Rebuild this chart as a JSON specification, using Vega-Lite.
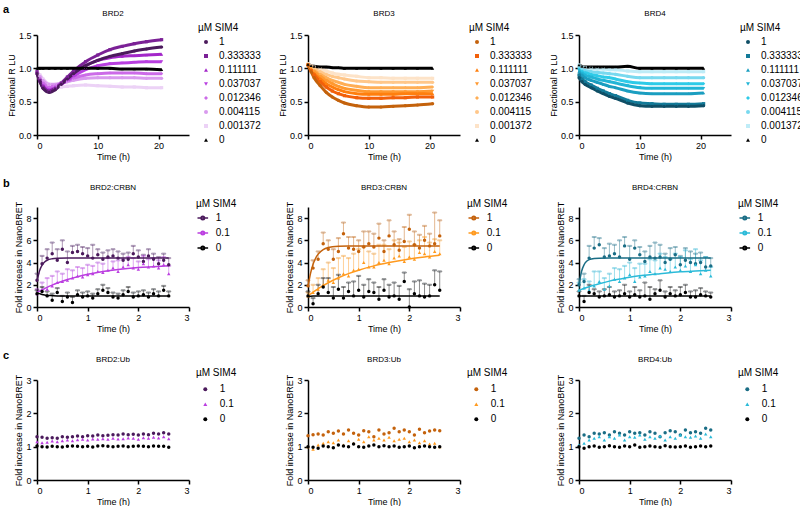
{
"$schema":"https://vega.github.io/schema/vega-lite/v6.json",
"padding":{"left":3,"top":3,"right":0,"bottom":0},
"spacing":16,
"config":{
 "font":"Liberation Sans",
 "view":{"stroke":null},
 "axis":{"grid":false,"domainColor":"#000","domainWidth":1.5,"tickColor":"#000","tickWidth":1.5,"tickSize":4,"labelColor":"#000","labelFontSize":9,"labelPadding":2,"titleColor":"#000","titleFontSize":9,"titleFontWeight":"normal","titlePadding":2,"minExtent":0},
 "legend":{"titleFontSize":10,"titleFontWeight":"normal","titleColor":"#000","labelFontSize":10,"labelColor":"#000"},
 "title":{"fontSize":8,"fontWeight":"normal","color":"#000","offset":3}
},
"datasets":{
"a2":[
{"t":0,"c":"0.001372","v":0.95},{"t":0.5,"c":"0.001372","v":0.9},{"t":1,"c":"0.001372","v":0.84},{"t":2,"c":"0.001372","v":0.76},{"t":3,"c":"0.001372","v":0.72},{"t":4,"c":"0.001372","v":0.72},{"t":5,"c":"0.001372","v":0.73},{"t":6,"c":"0.001372","v":0.74},{"t":8,"c":"0.001372","v":0.75},{"t":10,"c":"0.001372","v":0.74},{"t":12,"c":"0.001372","v":0.73},{"t":14,"c":"0.001372","v":0.72},{"t":16,"c":"0.001372","v":0.72},{"t":18,"c":"0.001372","v":0.71},{"t":20.5,"c":"0.001372","v":0.71},
{"t":0,"c":"0.004115","v":0.94},{"t":0.5,"c":"0.004115","v":0.88},{"t":1,"c":"0.004115","v":0.82},{"t":2,"c":"0.004115","v":0.76},{"t":3,"c":"0.004115","v":0.76},{"t":4,"c":"0.004115","v":0.78},{"t":5,"c":"0.004115","v":0.8},{"t":6,"c":"0.004115","v":0.82},{"t":8,"c":"0.004115","v":0.85},{"t":10,"c":"0.004115","v":0.86},{"t":12,"c":"0.004115","v":0.86},{"t":14,"c":"0.004115","v":0.86},{"t":16,"c":"0.004115","v":0.86},{"t":18,"c":"0.004115","v":0.85},{"t":20.5,"c":"0.004115","v":0.85},
{"t":0,"c":"0.012346","v":0.93},{"t":0.5,"c":"0.012346","v":0.85},{"t":1,"c":"0.012346","v":0.78},{"t":2,"c":"0.012346","v":0.72},{"t":3,"c":"0.012346","v":0.74},{"t":4,"c":"0.012346","v":0.77},{"t":5,"c":"0.012346","v":0.81},{"t":6,"c":"0.012346","v":0.85},{"t":8,"c":"0.012346","v":0.9},{"t":10,"c":"0.012346","v":0.92},{"t":12,"c":"0.012346","v":0.93},{"t":14,"c":"0.012346","v":0.93},{"t":16,"c":"0.012346","v":0.93},{"t":18,"c":"0.012346","v":0.92},{"t":20.5,"c":"0.012346","v":0.92},
{"t":0,"c":"0.037037","v":0.92},{"t":0.5,"c":"0.037037","v":0.82},{"t":1,"c":"0.037037","v":0.74},{"t":2,"c":"0.037037","v":0.68},{"t":3,"c":"0.037037","v":0.71},{"t":4,"c":"0.037037","v":0.76},{"t":5,"c":"0.037037","v":0.82},{"t":6,"c":"0.037037","v":0.88},{"t":8,"c":"0.037037","v":0.98},{"t":10,"c":"0.037037","v":1.04},{"t":12,"c":"0.037037","v":1.07},{"t":14,"c":"0.037037","v":1.08},{"t":16,"c":"0.037037","v":1.09},{"t":18,"c":"0.037037","v":1.1},{"t":20.5,"c":"0.037037","v":1.1},
{"t":0,"c":"0.111111","v":0.93},{"t":0.5,"c":"0.111111","v":0.8},{"t":1,"c":"0.111111","v":0.71},{"t":2,"c":"0.111111","v":0.66},{"t":3,"c":"0.111111","v":0.7},{"t":4,"c":"0.111111","v":0.77},{"t":5,"c":"0.111111","v":0.85},{"t":6,"c":"0.111111","v":0.93},{"t":8,"c":"0.111111","v":1.04},{"t":10,"c":"0.111111","v":1.12},{"t":12,"c":"0.111111","v":1.16},{"t":14,"c":"0.111111","v":1.18},{"t":16,"c":"0.111111","v":1.19},{"t":18,"c":"0.111111","v":1.2},{"t":20.5,"c":"0.111111","v":1.21},
{"t":0,"c":"0.333333","v":0.95},{"t":0.5,"c":"0.333333","v":0.82},{"t":1,"c":"0.333333","v":0.72},{"t":2,"c":"0.333333","v":0.66},{"t":3,"c":"0.333333","v":0.7},{"t":4,"c":"0.333333","v":0.78},{"t":5,"c":"0.333333","v":0.87},{"t":6,"c":"0.333333","v":0.96},{"t":8,"c":"0.333333","v":1.1},{"t":10,"c":"0.333333","v":1.2},{"t":12,"c":"0.333333","v":1.28},{"t":14,"c":"0.333333","v":1.33},{"t":16,"c":"0.333333","v":1.37},{"t":18,"c":"0.333333","v":1.4},{"t":20.5,"c":"0.333333","v":1.43},
{"t":0,"c":"1","v":0.92},{"t":0.5,"c":"1","v":0.8},{"t":1,"c":"1","v":0.7},{"t":2,"c":"1","v":0.64},{"t":3,"c":"1","v":0.68},{"t":4,"c":"1","v":0.76},{"t":5,"c":"1","v":0.84},{"t":6,"c":"1","v":0.92},{"t":8,"c":"1","v":1.04},{"t":10,"c":"1","v":1.12},{"t":12,"c":"1","v":1.18},{"t":14,"c":"1","v":1.22},{"t":16,"c":"1","v":1.26},{"t":18,"c":"1","v":1.29},{"t":20.5,"c":"1","v":1.32},
{"t":0,"c":"0","v":1.0},{"t":0.5,"c":"0","v":1.0},{"t":1,"c":"0","v":1.0},{"t":2,"c":"0","v":1.0},{"t":3,"c":"0","v":1.0},{"t":4,"c":"0","v":1.0},{"t":5,"c":"0","v":1.0},{"t":6,"c":"0","v":1.0},{"t":8,"c":"0","v":1.0},{"t":10,"c":"0","v":1.0},{"t":12,"c":"0","v":1.0},{"t":14,"c":"0","v":0.99},{"t":16,"c":"0","v":0.99},{"t":18,"c":"0","v":0.99},{"t":20.5,"c":"0","v":0.98}
],
"a3":[
{"t":0,"c":"0.001372","v":1.07},{"t":0.5,"c":"0.001372","v":1.04},{"t":1,"c":"0.001372","v":1.02},{"t":2,"c":"0.001372","v":0.99},{"t":3,"c":"0.001372","v":0.96},{"t":4,"c":"0.001372","v":0.93},{"t":5,"c":"0.001372","v":0.91},{"t":6,"c":"0.001372","v":0.9},{"t":8,"c":"0.001372","v":0.88},{"t":10,"c":"0.001372","v":0.86},{"t":12,"c":"0.001372","v":0.86},{"t":14,"c":"0.001372","v":0.85},{"t":16,"c":"0.001372","v":0.85},{"t":18,"c":"0.001372","v":0.85},{"t":20.5,"c":"0.001372","v":0.85},
{"t":0,"c":"0.004115","v":1.06},{"t":0.5,"c":"0.004115","v":1.03},{"t":1,"c":"0.004115","v":1.0},{"t":2,"c":"0.004115","v":0.95},{"t":3,"c":"0.004115","v":0.91},{"t":4,"c":"0.004115","v":0.88},{"t":5,"c":"0.004115","v":0.86},{"t":6,"c":"0.004115","v":0.84},{"t":8,"c":"0.004115","v":0.81},{"t":10,"c":"0.004115","v":0.8},{"t":12,"c":"0.004115","v":0.79},{"t":14,"c":"0.004115","v":0.79},{"t":16,"c":"0.004115","v":0.79},{"t":18,"c":"0.004115","v":0.79},{"t":20.5,"c":"0.004115","v":0.79},
{"t":0,"c":"0.012346","v":1.06},{"t":0.5,"c":"0.012346","v":1.01},{"t":1,"c":"0.012346","v":0.97},{"t":2,"c":"0.012346","v":0.91},{"t":3,"c":"0.012346","v":0.86},{"t":4,"c":"0.012346","v":0.82},{"t":5,"c":"0.012346","v":0.79},{"t":6,"c":"0.012346","v":0.76},{"t":8,"c":"0.012346","v":0.73},{"t":10,"c":"0.012346","v":0.71},{"t":12,"c":"0.012346","v":0.71},{"t":14,"c":"0.012346","v":0.71},{"t":16,"c":"0.012346","v":0.71},{"t":18,"c":"0.012346","v":0.71},{"t":20.5,"c":"0.012346","v":0.72},
{"t":0,"c":"0.037037","v":1.06},{"t":0.5,"c":"0.037037","v":1.0},{"t":1,"c":"0.037037","v":0.95},{"t":2,"c":"0.037037","v":0.88},{"t":3,"c":"0.037037","v":0.82},{"t":4,"c":"0.037037","v":0.77},{"t":5,"c":"0.037037","v":0.73},{"t":6,"c":"0.037037","v":0.7},{"t":8,"c":"0.037037","v":0.67},{"t":10,"c":"0.037037","v":0.65},{"t":12,"c":"0.037037","v":0.65},{"t":14,"c":"0.037037","v":0.65},{"t":16,"c":"0.037037","v":0.65},{"t":18,"c":"0.037037","v":0.65},{"t":20.5,"c":"0.037037","v":0.66},
{"t":0,"c":"0.111111","v":1.05},{"t":0.5,"c":"0.111111","v":0.98},{"t":1,"c":"0.111111","v":0.92},{"t":2,"c":"0.111111","v":0.84},{"t":3,"c":"0.111111","v":0.77},{"t":4,"c":"0.111111","v":0.72},{"t":5,"c":"0.111111","v":0.68},{"t":6,"c":"0.111111","v":0.65},{"t":8,"c":"0.111111","v":0.62},{"t":10,"c":"0.111111","v":0.61},{"t":12,"c":"0.111111","v":0.61},{"t":14,"c":"0.111111","v":0.61},{"t":16,"c":"0.111111","v":0.62},{"t":18,"c":"0.111111","v":0.62},{"t":20.5,"c":"0.111111","v":0.62},
{"t":0,"c":"0.333333","v":1.05},{"t":0.5,"c":"0.333333","v":0.97},{"t":1,"c":"0.333333","v":0.9},{"t":2,"c":"0.333333","v":0.8},{"t":3,"c":"0.333333","v":0.72},{"t":4,"c":"0.333333","v":0.66},{"t":5,"c":"0.333333","v":0.62},{"t":6,"c":"0.333333","v":0.59},{"t":8,"c":"0.333333","v":0.56},{"t":10,"c":"0.333333","v":0.55},{"t":12,"c":"0.333333","v":0.55},{"t":14,"c":"0.333333","v":0.56},{"t":16,"c":"0.333333","v":0.56},{"t":18,"c":"0.333333","v":0.57},{"t":20.5,"c":"0.333333","v":0.57},
{"t":0,"c":"1","v":1.05},{"t":0.5,"c":"1","v":0.95},{"t":1,"c":"1","v":0.86},{"t":2,"c":"1","v":0.74},{"t":3,"c":"1","v":0.64},{"t":4,"c":"1","v":0.57},{"t":5,"c":"1","v":0.52},{"t":6,"c":"1","v":0.48},{"t":8,"c":"1","v":0.44},{"t":10,"c":"1","v":0.42},{"t":12,"c":"1","v":0.42},{"t":14,"c":"1","v":0.43},{"t":16,"c":"1","v":0.44},{"t":18,"c":"1","v":0.45},{"t":20.5,"c":"1","v":0.47},
{"t":0,"c":"0","v":1.06},{"t":0.5,"c":"0","v":1.04},{"t":1,"c":"0","v":1.03},{"t":2,"c":"0","v":1.02},{"t":3,"c":"0","v":1.02},{"t":4,"c":"0","v":1.01},{"t":5,"c":"0","v":1.01},{"t":6,"c":"0","v":1.0},{"t":8,"c":"0","v":1.0},{"t":10,"c":"0","v":1.0},{"t":12,"c":"0","v":1.0},{"t":14,"c":"0","v":1.0},{"t":16,"c":"0","v":1.0},{"t":18,"c":"0","v":1.0},{"t":20.5,"c":"0","v":1.0}
],
"a4":[
{"t":0,"c":"0.001372","v":1.05},{"t":0.5,"c":"0.001372","v":1.02},{"t":1,"c":"0.001372","v":1.01},{"t":2,"c":"0.001372","v":1.0},{"t":3,"c":"0.001372","v":0.99},{"t":4,"c":"0.001372","v":0.99},{"t":5,"c":"0.001372","v":0.98},{"t":6,"c":"0.001372","v":0.98},{"t":8,"c":"0.001372","v":0.96},{"t":10,"c":"0.001372","v":0.95},{"t":12,"c":"0.001372","v":0.95},{"t":14,"c":"0.001372","v":0.95},{"t":16,"c":"0.001372","v":0.95},{"t":18,"c":"0.001372","v":0.95},{"t":20.5,"c":"0.001372","v":0.95},
{"t":0,"c":"0.004115","v":1.01},{"t":0.5,"c":"0.004115","v":0.99},{"t":1,"c":"0.004115","v":0.97},{"t":2,"c":"0.004115","v":0.95},{"t":3,"c":"0.004115","v":0.94},{"t":4,"c":"0.004115","v":0.93},{"t":5,"c":"0.004115","v":0.92},{"t":6,"c":"0.004115","v":0.91},{"t":8,"c":"0.004115","v":0.88},{"t":10,"c":"0.004115","v":0.86},{"t":12,"c":"0.004115","v":0.86},{"t":14,"c":"0.004115","v":0.86},{"t":16,"c":"0.004115","v":0.86},{"t":18,"c":"0.004115","v":0.86},{"t":20.5,"c":"0.004115","v":0.86},
{"t":0,"c":"0.012346","v":0.99},{"t":0.5,"c":"0.012346","v":0.96},{"t":1,"c":"0.012346","v":0.94},{"t":2,"c":"0.012346","v":0.91},{"t":3,"c":"0.012346","v":0.89},{"t":4,"c":"0.012346","v":0.87},{"t":5,"c":"0.012346","v":0.86},{"t":6,"c":"0.012346","v":0.84},{"t":8,"c":"0.012346","v":0.8},{"t":10,"c":"0.012346","v":0.78},{"t":12,"c":"0.012346","v":0.77},{"t":14,"c":"0.012346","v":0.77},{"t":16,"c":"0.012346","v":0.77},{"t":18,"c":"0.012346","v":0.77},{"t":20.5,"c":"0.012346","v":0.77},
{"t":0,"c":"0.037037","v":0.97},{"t":0.5,"c":"0.037037","v":0.93},{"t":1,"c":"0.037037","v":0.9},{"t":2,"c":"0.037037","v":0.87},{"t":3,"c":"0.037037","v":0.84},{"t":4,"c":"0.037037","v":0.82},{"t":5,"c":"0.037037","v":0.8},{"t":6,"c":"0.037037","v":0.78},{"t":8,"c":"0.037037","v":0.74},{"t":10,"c":"0.037037","v":0.71},{"t":12,"c":"0.037037","v":0.7},{"t":14,"c":"0.037037","v":0.7},{"t":16,"c":"0.037037","v":0.7},{"t":18,"c":"0.037037","v":0.7},{"t":20.5,"c":"0.037037","v":0.7},
{"t":0,"c":"0.111111","v":0.95},{"t":0.5,"c":"0.111111","v":0.9},{"t":1,"c":"0.111111","v":0.86},{"t":2,"c":"0.111111","v":0.82},{"t":3,"c":"0.111111","v":0.79},{"t":4,"c":"0.111111","v":0.76},{"t":5,"c":"0.111111","v":0.73},{"t":6,"c":"0.111111","v":0.71},{"t":8,"c":"0.111111","v":0.66},{"t":10,"c":"0.111111","v":0.63},{"t":12,"c":"0.111111","v":0.62},{"t":14,"c":"0.111111","v":0.62},{"t":16,"c":"0.111111","v":0.62},{"t":18,"c":"0.111111","v":0.62},{"t":20.5,"c":"0.111111","v":0.63},
{"t":0,"c":"0.333333","v":0.9},{"t":0.5,"c":"0.333333","v":0.84},{"t":1,"c":"0.333333","v":0.8},{"t":2,"c":"0.333333","v":0.75},{"t":3,"c":"0.333333","v":0.7},{"t":4,"c":"0.333333","v":0.66},{"t":5,"c":"0.333333","v":0.62},{"t":6,"c":"0.333333","v":0.59},{"t":8,"c":"0.333333","v":0.52},{"t":10,"c":"0.333333","v":0.48},{"t":12,"c":"0.333333","v":0.47},{"t":14,"c":"0.333333","v":0.46},{"t":16,"c":"0.333333","v":0.46},{"t":18,"c":"0.333333","v":0.46},{"t":20.5,"c":"0.333333","v":0.47},
{"t":0,"c":"1","v":0.86},{"t":0.5,"c":"1","v":0.8},{"t":1,"c":"1","v":0.76},{"t":2,"c":"1","v":0.71},{"t":3,"c":"1","v":0.66},{"t":4,"c":"1","v":0.62},{"t":5,"c":"1","v":0.58},{"t":6,"c":"1","v":0.55},{"t":8,"c":"1","v":0.48},{"t":10,"c":"1","v":0.44},{"t":12,"c":"1","v":0.43},{"t":14,"c":"1","v":0.43},{"t":16,"c":"1","v":0.43},{"t":18,"c":"1","v":0.43},{"t":20.5,"c":"1","v":0.44},
{"t":0,"c":"0","v":1.05},{"t":0.5,"c":"0","v":1.03},{"t":1,"c":"0","v":1.02},{"t":2,"c":"0","v":1.02},{"t":3,"c":"0","v":1.02},{"t":4,"c":"0","v":1.02},{"t":5,"c":"0","v":1.02},{"t":6,"c":"0","v":1.02},{"t":8,"c":"0","v":1.03},{"t":10,"c":"0","v":1.0},{"t":12,"c":"0","v":1.0},{"t":14,"c":"0","v":1.0},{"t":16,"c":"0","v":1.0},{"t":18,"c":"0","v":1.0},{"t":20.5,"c":"0","v":1.0}
],
"b2":[
{"t":0,"c":"1","v":2.4,"h":3.0},{"t":0.1,"c":"1","v":3.9,"h":4.6},{"t":0.2,"c":"1","v":4.4,"h":5.2},{"t":0.3,"c":"1","v":4.8,"h":5.8},{"t":0.4,"c":"1","v":4.2,"h":5.2},{"t":0.5,"c":"1","v":5.2,"h":6.0},{"t":0.6,"c":"1","v":4.0,"h":5.0},{"t":0.7,"c":"1","v":4.9,"h":5.5},{"t":0.8,"c":"1","v":5.0,"h":5.6},{"t":0.9,"c":"1","v":4.8,"h":5.4},{"t":1,"c":"1","v":4.6,"h":5.3},{"t":1.1,"c":"1","v":4.4,"h":5.6},{"t":1.2,"c":"1","v":4.7,"h":5.2},{"t":1.3,"c":"1","v":4.3,"h":4.9},{"t":1.4,"c":"1","v":4.5,"h":5.1},{"t":1.5,"c":"1","v":4.6,"h":5.2},{"t":1.6,"c":"1","v":4.4,"h":5.0},{"t":1.7,"c":"1","v":4.2,"h":4.8},{"t":1.8,"c":"1","v":4.3,"h":4.9},{"t":1.9,"c":"1","v":4.8,"h":5.5},{"t":2,"c":"1","v":4.5,"h":5.1},{"t":2.1,"c":"1","v":4.1,"h":4.7},{"t":2.2,"c":"1","v":4.6,"h":5.2},{"t":2.3,"c":"1","v":4.3,"h":4.8},{"t":2.4,"c":"1","v":3.9,"h":4.5},{"t":2.5,"c":"1","v":4.2,"h":4.8},{"t":2.6,"c":"1","v":3.8,"h":4.4},
{"t":0,"c":"0.1","v":1.2,"h":1.6},{"t":0.1,"c":"0.1","v":1.5,"h":2.2},{"t":0.2,"c":"0.1","v":1.6,"h":2.6},{"t":0.3,"c":"0.1","v":1.9,"h":2.8},{"t":0.4,"c":"0.1","v":2.2,"h":3.2},{"t":0.5,"c":"0.1","v":2.3,"h":3.0},{"t":0.6,"c":"0.1","v":2.4,"h":3.4},{"t":0.7,"c":"0.1","v":2.6,"h":3.3},{"t":0.8,"c":"0.1","v":2.8,"h":3.6},{"t":0.9,"c":"0.1","v":2.7,"h":3.5},{"t":1,"c":"0.1","v":2.9,"h":3.8},{"t":1.1,"c":"0.1","v":3.0,"h":3.7},{"t":1.2,"c":"0.1","v":3.2,"h":4.0},{"t":1.3,"c":"0.1","v":3.1,"h":3.9},{"t":1.4,"c":"0.1","v":3.3,"h":4.4},{"t":1.5,"c":"0.1","v":3.5,"h":4.1},{"t":1.6,"c":"0.1","v":3.2,"h":4.2},{"t":1.7,"c":"0.1","v":3.6,"h":4.3},{"t":1.8,"c":"0.1","v":3.8,"h":4.5},{"t":1.9,"c":"0.1","v":3.5,"h":4.4},{"t":2,"c":"0.1","v":3.4,"h":4.1},{"t":2.1,"c":"0.1","v":3.9,"h":4.6},{"t":2.2,"c":"0.1","v":3.6,"h":4.3},{"t":2.3,"c":"0.1","v":3.7,"h":4.4},{"t":2.4,"c":"0.1","v":3.5,"h":4.2},{"t":2.5,"c":"0.1","v":3.8,"h":4.5},{"t":2.6,"c":"0.1","v":3.0,"h":3.7},
{"t":0,"c":"0","v":1.2,"h":1.5},{"t":0.1,"c":"0","v":1.4,"h":1.8},{"t":0.2,"c":"0","v":1.0,"h":1.4},{"t":0.3,"c":"0","v":0.6,"h":1.2},{"t":0.4,"c":"0","v":1.3,"h":1.7},{"t":0.5,"c":"0","v":0.5,"h":1.0},{"t":0.6,"c":"0","v":0.9,"h":1.3},{"t":0.7,"c":"0","v":0.4,"h":0.9},{"t":0.8,"c":"0","v":1.1,"h":1.5},{"t":0.9,"c":"0","v":0.9,"h":1.3},{"t":1,"c":"0","v":1.0,"h":1.4},{"t":1.1,"c":"0","v":0.8,"h":1.2},{"t":1.2,"c":"0","v":1.2,"h":1.6},{"t":1.3,"c":"0","v":1.5,"h":2.0},{"t":1.4,"c":"0","v":1.3,"h":1.7},{"t":1.5,"c":"0","v":0.9,"h":1.3},{"t":1.6,"c":"0","v":0.8,"h":1.2},{"t":1.7,"c":"0","v":1.1,"h":1.5},{"t":1.8,"c":"0","v":1.4,"h":1.8},{"t":1.9,"c":"0","v":0.9,"h":1.3},{"t":2,"c":"0","v":1.0,"h":1.4},{"t":2.1,"c":"0","v":1.1,"h":1.5},{"t":2.2,"c":"0","v":0.9,"h":1.3},{"t":2.3,"c":"0","v":1.2,"h":1.6},{"t":2.4,"c":"0","v":1.0,"h":1.4},{"t":2.5,"c":"0","v":1.5,"h":1.9},{"t":2.6,"c":"0","v":1.0,"h":1.4}
],
"b3":[
{"t":0,"c":"1","v":1.9,"h":2.4},{"t":0.1,"c":"1","v":3.5,"h":4.2},{"t":0.2,"c":"1","v":4.3,"h":5.0},{"t":0.3,"c":"1","v":5.7,"h":6.7},{"t":0.4,"c":"1","v":5.2,"h":6.0},{"t":0.5,"c":"1","v":4.3,"h":5.2},{"t":0.6,"c":"1","v":5.0,"h":6.2},{"t":0.7,"c":"1","v":6.6,"h":7.6},{"t":0.8,"c":"1","v":5.3,"h":6.3},{"t":0.9,"c":"1","v":5.2,"h":6.3},{"t":1,"c":"1","v":5.0,"h":6.0},{"t":1.1,"c":"1","v":5.4,"h":6.8},{"t":1.2,"c":"1","v":5.7,"h":6.8},{"t":1.3,"c":"1","v":5.4,"h":6.6},{"t":1.4,"c":"1","v":6.2,"h":7.5},{"t":1.5,"c":"1","v":5.0,"h":6.0},{"t":1.6,"c":"1","v":6.4,"h":7.8},{"t":1.7,"c":"1","v":5.6,"h":6.8},{"t":1.8,"c":"1","v":5.1,"h":6.1},{"t":1.9,"c":"1","v":5.9,"h":7.2},{"t":2,"c":"1","v":7.0,"h":8.3},{"t":2.1,"c":"1","v":5.6,"h":6.8},{"t":2.2,"c":"1","v":5.3,"h":6.5},{"t":2.3,"c":"1","v":6.0,"h":7.3},{"t":2.4,"c":"1","v":5.5,"h":6.6},{"t":2.5,"c":"1","v":5.7,"h":8.5},{"t":2.6,"c":"1","v":6.4,"h":7.8},
{"t":0,"c":"0.1","v":1.0,"h":1.3},{"t":0.1,"c":"0.1","v":1.3,"h":2.0},{"t":0.2,"c":"0.1","v":1.6,"h":2.6},{"t":0.3,"c":"0.1","v":2.0,"h":3.4},{"t":0.4,"c":"0.1","v":2.4,"h":4.0},{"t":0.5,"c":"0.1","v":2.2,"h":3.5},{"t":0.6,"c":"0.1","v":2.6,"h":4.4},{"t":0.7,"c":"0.1","v":3.0,"h":4.6},{"t":0.8,"c":"0.1","v":2.8,"h":4.4},{"t":0.9,"c":"0.1","v":3.3,"h":4.8},{"t":1,"c":"0.1","v":3.4,"h":5.2},{"t":1.1,"c":"0.1","v":4.0,"h":5.4},{"t":1.2,"c":"0.1","v":3.6,"h":5.0},{"t":1.3,"c":"0.1","v":3.6,"h":4.8},{"t":1.4,"c":"0.1","v":4.0,"h":5.6},{"t":1.5,"c":"0.1","v":4.2,"h":5.6},{"t":1.6,"c":"0.1","v":3.9,"h":5.2},{"t":1.7,"c":"0.1","v":4.4,"h":6.0},{"t":1.8,"c":"0.1","v":4.6,"h":5.8},{"t":1.9,"c":"0.1","v":4.1,"h":5.4},{"t":2,"c":"0.1","v":4.5,"h":5.9},{"t":2.1,"c":"0.1","v":4.3,"h":5.6},{"t":2.2,"c":"0.1","v":4.9,"h":6.0},{"t":2.3,"c":"0.1","v":4.8,"h":6.3},{"t":2.4,"c":"0.1","v":4.5,"h":5.8},{"t":2.5,"c":"0.1","v":5.0,"h":6.1},{"t":2.6,"c":"0.1","v":4.8,"h":6.0},
{"t":0,"c":"0","v":1.0,"h":1.4},{"t":0.1,"c":"0","v":0.3,"h":0.8},{"t":0.2,"c":"0","v":1.2,"h":2.0},{"t":0.3,"c":"0","v":1.8,"h":2.6},{"t":0.4,"c":"0","v":1.3,"h":2.6},{"t":0.5,"c":"0","v":0.8,"h":1.8},{"t":0.6,"c":"0","v":1.6,"h":2.9},{"t":0.7,"c":"0","v":0.8,"h":1.8},{"t":0.8,"c":"0","v":1.4,"h":2.2},{"t":0.9,"c":"0","v":1.0,"h":2.3},{"t":1,"c":"0","v":1.5,"h":2.8},{"t":1.1,"c":"0","v":0.9,"h":2.0},{"t":1.2,"c":"0","v":1.4,"h":2.5},{"t":1.3,"c":"0","v":1.3,"h":2.2},{"t":1.4,"c":"0","v":0.7,"h":1.8},{"t":1.5,"c":"0","v":1.5,"h":2.5},{"t":1.6,"c":"0","v":0.9,"h":2.0},{"t":1.7,"c":"0","v":1.0,"h":2.2},{"t":1.8,"c":"0","v":0.7,"h":1.9},{"t":1.9,"c":"0","v":2.3,"h":3.1},{"t":2,"c":"0","v":0.0,"h":1.6},{"t":2.1,"c":"0","v":1.2,"h":2.3},{"t":2.2,"c":"0","v":1.0,"h":2.4},{"t":2.3,"c":"0","v":0.9,"h":2.1},{"t":2.4,"c":"0","v":1.0,"h":2.0},{"t":2.5,"c":"0","v":2.0,"h":3.3},{"t":2.6,"c":"0","v":1.5,"h":3.2}
],
"b4":[
{"t":0,"c":"1","v":2.0,"h":2.5},{"t":0.1,"c":"1","v":2.3,"h":3.0},{"t":0.2,"c":"1","v":4.4,"h":5.5},{"t":0.3,"c":"1","v":5.3,"h":6.3},{"t":0.4,"c":"1","v":5.6,"h":6.2},{"t":0.5,"c":"1","v":4.5,"h":5.3},{"t":0.6,"c":"1","v":4.6,"h":5.7},{"t":0.7,"c":"1","v":4.8,"h":5.6},{"t":0.8,"c":"1","v":4.5,"h":6.0},{"t":0.9,"c":"1","v":5.5,"h":6.3},{"t":1,"c":"1","v":4.3,"h":5.5},{"t":1.1,"c":"1","v":5.3,"h":6.0},{"t":1.2,"c":"1","v":4.7,"h":5.4},{"t":1.3,"c":"1","v":4.1,"h":5.0},{"t":1.4,"c":"1","v":4.5,"h":5.5},{"t":1.5,"c":"1","v":4.4,"h":5.8},{"t":1.6,"c":"1","v":4.5,"h":5.6},{"t":1.7,"c":"1","v":4.0,"h":4.8},{"t":1.8,"c":"1","v":4.3,"h":5.3},{"t":1.9,"c":"1","v":4.7,"h":5.4},{"t":2,"c":"1","v":3.8,"h":4.6},{"t":2.1,"c":"1","v":4.2,"h":5.3},{"t":2.2,"c":"1","v":4.0,"h":5.0},{"t":2.3,"c":"1","v":3.9,"h":4.8},{"t":2.4,"c":"1","v":4.0,"h":4.9},{"t":2.5,"c":"1","v":3.6,"h":4.5},{"t":2.6,"c":"1","v":3.7,"h":4.4},
{"t":0,"c":"0.1","v":1.5,"h":2.2},{"t":0.1,"c":"0.1","v":1.7,"h":2.5},{"t":0.2,"c":"0.1","v":1.5,"h":2.3},{"t":0.3,"c":"0.1","v":1.9,"h":3.2},{"t":0.4,"c":"0.1","v":2.3,"h":3.2},{"t":0.5,"c":"0.1","v":1.6,"h":2.6},{"t":0.6,"c":"0.1","v":1.9,"h":3.0},{"t":0.7,"c":"0.1","v":2.5,"h":3.5},{"t":0.8,"c":"0.1","v":2.3,"h":3.4},{"t":0.9,"c":"0.1","v":2.6,"h":3.7},{"t":1,"c":"0.1","v":2.9,"h":4.0},{"t":1.1,"c":"0.1","v":2.3,"h":3.5},{"t":1.2,"c":"0.1","v":2.7,"h":3.9},{"t":1.3,"c":"0.1","v":2.8,"h":3.9},{"t":1.4,"c":"0.1","v":3.2,"h":4.3},{"t":1.5,"c":"0.1","v":3.0,"h":4.2},{"t":1.6,"c":"0.1","v":3.5,"h":4.8},{"t":1.7,"c":"0.1","v":3.4,"h":4.5},{"t":1.8,"c":"0.1","v":3.2,"h":4.3},{"t":1.9,"c":"0.1","v":3.6,"h":4.8},{"t":2,"c":"0.1","v":3.3,"h":4.5},{"t":2.1,"c":"0.1","v":3.7,"h":5.1},{"t":2.2,"c":"0.1","v":3.2,"h":4.3},{"t":2.3,"c":"0.1","v":3.8,"h":5.2},{"t":2.4,"c":"0.1","v":3.0,"h":4.2},{"t":2.5,"c":"0.1","v":3.3,"h":4.5},{"t":2.6,"c":"0.1","v":2.8,"h":3.6},
{"t":0,"c":"0","v":1.0,"h":1.4},{"t":0.1,"c":"0","v":0.5,"h":1.0},{"t":0.2,"c":"0","v":1.3,"h":2.0},{"t":0.3,"c":"0","v":1.2,"h":1.6},{"t":0.4,"c":"0","v":0.9,"h":1.4},{"t":0.5,"c":"0","v":1.0,"h":1.6},{"t":0.6,"c":"0","v":1.1,"h":1.8},{"t":0.7,"c":"0","v":0.9,"h":1.4},{"t":0.8,"c":"0","v":1.0,"h":1.5},{"t":0.9,"c":"0","v":1.2,"h":2.0},{"t":1,"c":"0","v":0.9,"h":1.4},{"t":1.1,"c":"0","v":1.1,"h":1.8},{"t":1.2,"c":"0","v":0.9,"h":1.5},{"t":1.3,"c":"0","v":1.0,"h":2.2},{"t":1.4,"c":"0","v":0.7,"h":1.8},{"t":1.5,"c":"0","v":1.2,"h":1.6},{"t":1.6,"c":"0","v":1.5,"h":2.4},{"t":1.7,"c":"0","v":0.9,"h":1.4},{"t":1.8,"c":"0","v":1.2,"h":1.8},{"t":1.9,"c":"0","v":1.0,"h":1.5},{"t":2,"c":"0","v":1.1,"h":1.8},{"t":2.1,"c":"0","v":1.3,"h":2.0},{"t":2.2,"c":"0","v":0.9,"h":1.4},{"t":2.3,"c":"0","v":0.9,"h":1.5},{"t":2.4,"c":"0","v":1.1,"h":1.7},{"t":2.5,"c":"0","v":1.0,"h":1.4},{"t":2.6,"c":"0","v":0.9,"h":1.3}
],
"f2":[
{"t":0,"c":"1","v":2.3},{"t":0.05,"c":"1","v":3.25},{"t":0.1,"c":"1","v":3.77},{"t":0.15,"c":"1","v":4.05},{"t":0.2,"c":"1","v":4.21},{"t":0.3,"c":"1","v":4.34},{"t":0.4,"c":"1","v":4.38},{"t":0.6,"c":"1","v":4.4},{"t":1,"c":"1","v":4.4},{"t":1.6,"c":"1","v":4.4},{"t":2.6,"c":"1","v":4.4},
{"t":0,"c":"0.1","v":1.3},{"t":0.05,"c":"0.1","v":1.43},{"t":0.1,"c":"0.1","v":1.55},{"t":0.15,"c":"0.1","v":1.66},{"t":0.2,"c":"0.1","v":1.77},{"t":0.3,"c":"0.1","v":1.97},{"t":0.4,"c":"0.1","v":2.16},{"t":0.6,"c":"0.1","v":2.47},{"t":0.8,"c":"0.1","v":2.73},{"t":1,"c":"0.1","v":2.94},{"t":1.3,"c":"0.1","v":3.19},{"t":1.6,"c":"0.1","v":3.38},{"t":2,"c":"0.1","v":3.55},{"t":2.3,"c":"0.1","v":3.63},{"t":2.6,"c":"0.1","v":3.71},
{"t":0,"c":"0","v":1.3},{"t":0.05,"c":"0","v":1.2},{"t":0.1,"c":"0","v":1.13},{"t":0.15,"c":"0","v":1.08},{"t":0.2,"c":"0","v":1.05},{"t":0.3,"c":"0","v":1.02},{"t":0.4,"c":"0","v":1.0},{"t":1,"c":"0","v":1.0},{"t":2.6,"c":"0","v":1.0}
],
"f3":[
{"t":0,"c":"1","v":1.8},{"t":0.05,"c":"1","v":3.02},{"t":0.1,"c":"1","v":3.84},{"t":0.15,"c":"1","v":4.39},{"t":0.2,"c":"1","v":4.76},{"t":0.3,"c":"1","v":5.17},{"t":0.4,"c":"1","v":5.35},{"t":0.6,"c":"1","v":5.47},{"t":0.8,"c":"1","v":5.5},{"t":1.6,"c":"1","v":5.5},{"t":2.6,"c":"1","v":5.5},
{"t":0,"c":"0.1","v":1.0},{"t":0.05,"c":"0.1","v":1.17},{"t":0.1,"c":"0.1","v":1.33},{"t":0.15,"c":"0.1","v":1.49},{"t":0.2,"c":"0.1","v":1.64},{"t":0.3,"c":"0.1","v":1.93},{"t":0.4,"c":"0.1","v":2.18},{"t":0.6,"c":"0.1","v":2.63},{"t":0.8,"c":"0.1","v":3.0},{"t":1,"c":"0.1","v":3.31},{"t":1.3,"c":"0.1","v":3.7},{"t":1.6,"c":"0.1","v":4.0},{"t":2,"c":"0.1","v":4.32},{"t":2.3,"c":"0.1","v":4.5},{"t":2.6,"c":"0.1","v":4.65},
{"t":0,"c":"0","v":0.9},{"t":0.05,"c":"0","v":0.97},{"t":0.1,"c":"0","v":1.0},{"t":1,"c":"0","v":1.0},{"t":2.6,"c":"0","v":1.0}
],
"f4":[
{"t":0,"c":"1","v":2.0},{"t":0.05,"c":"1","v":3.2},{"t":0.1,"c":"1","v":3.8},{"t":0.15,"c":"1","v":4.11},{"t":0.2,"c":"1","v":4.26},{"t":0.3,"c":"1","v":4.37},{"t":0.4,"c":"1","v":4.39},{"t":0.6,"c":"1","v":4.4},{"t":1.6,"c":"1","v":4.4},{"t":2.6,"c":"1","v":4.4},
{"t":0,"c":"0.1","v":1.5},{"t":0.05,"c":"0.1","v":1.59},{"t":0.1,"c":"0.1","v":1.67},{"t":0.15,"c":"0.1","v":1.75},{"t":0.2,"c":"0.1","v":1.83},{"t":0.3,"c":"0.1","v":1.97},{"t":0.4,"c":"0.1","v":2.1},{"t":0.6,"c":"0.1","v":2.33},{"t":0.8,"c":"0.1","v":2.51},{"t":1,"c":"0.1","v":2.68},{"t":1.3,"c":"0.1","v":2.86},{"t":1.6,"c":"0.1","v":3.0},{"t":2,"c":"0.1","v":3.17},{"t":2.3,"c":"0.1","v":3.24},{"t":2.6,"c":"0.1","v":3.3},
{"t":0,"c":"0","v":1.0},{"t":1,"c":"0","v":1.0},{"t":2.6,"c":"0","v":1.0}
],
"c2":[
{"t":0,"c":"1","v":1.3},{"t":0.1,"c":"1","v":1.28},{"t":0.2,"c":"1","v":1.25},{"t":0.3,"c":"1","v":1.27},{"t":0.4,"c":"1","v":1.25},{"t":0.5,"c":"1","v":1.3},{"t":0.6,"c":"1","v":1.28},{"t":0.7,"c":"1","v":1.3},{"t":0.8,"c":"1","v":1.32},{"t":0.9,"c":"1","v":1.3},{"t":1,"c":"1","v":1.33},{"t":1.1,"c":"1","v":1.32},{"t":1.2,"c":"1","v":1.35},{"t":1.3,"c":"1","v":1.33},{"t":1.4,"c":"1","v":1.34},{"t":1.5,"c":"1","v":1.36},{"t":1.6,"c":"1","v":1.35},{"t":1.7,"c":"1","v":1.38},{"t":1.8,"c":"1","v":1.36},{"t":1.9,"c":"1","v":1.37},{"t":2,"c":"1","v":1.35},{"t":2.1,"c":"1","v":1.38},{"t":2.2,"c":"1","v":1.36},{"t":2.3,"c":"1","v":1.4},{"t":2.4,"c":"1","v":1.38},{"t":2.5,"c":"1","v":1.42},{"t":2.6,"c":"1","v":1.38},
{"t":0,"c":"0.1","v":1.15},{"t":0.1,"c":"0.1","v":1.12},{"t":0.2,"c":"0.1","v":1.13},{"t":0.3,"c":"0.1","v":1.17},{"t":0.4,"c":"0.1","v":1.15},{"t":0.5,"c":"0.1","v":1.18},{"t":0.6,"c":"0.1","v":1.2},{"t":0.7,"c":"0.1","v":1.18},{"t":0.8,"c":"0.1","v":1.21},{"t":0.9,"c":"0.1","v":1.22},{"t":1,"c":"0.1","v":1.2},{"t":1.1,"c":"0.1","v":1.23},{"t":1.2,"c":"0.1","v":1.22},{"t":1.3,"c":"0.1","v":1.24},{"t":1.4,"c":"0.1","v":1.22},{"t":1.5,"c":"0.1","v":1.25},{"t":1.6,"c":"0.1","v":1.23},{"t":1.7,"c":"0.1","v":1.24},{"t":1.8,"c":"0.1","v":1.26},{"t":1.9,"c":"0.1","v":1.25},{"t":2,"c":"0.1","v":1.22},{"t":2.1,"c":"0.1","v":1.27},{"t":2.2,"c":"0.1","v":1.25},{"t":2.3,"c":"0.1","v":1.28},{"t":2.4,"c":"0.1","v":1.26},{"t":2.5,"c":"0.1","v":1.3},{"t":2.6,"c":"0.1","v":1.24},
{"t":0,"c":"0","v":1.02},{"t":0.1,"c":"0","v":1.0},{"t":0.2,"c":"0","v":0.99},{"t":0.3,"c":"0","v":1.01},{"t":0.4,"c":"0","v":1.0},{"t":0.5,"c":"0","v":0.99},{"t":0.6,"c":"0","v":1.01},{"t":0.7,"c":"0","v":1.02},{"t":0.8,"c":"0","v":1.01},{"t":0.9,"c":"0","v":1.0},{"t":1,"c":"0","v":1.01},{"t":1.1,"c":"0","v":0.99},{"t":1.2,"c":"0","v":1.02},{"t":1.3,"c":"0","v":1.03},{"t":1.4,"c":"0","v":1.01},{"t":1.5,"c":"0","v":1.0},{"t":1.6,"c":"0","v":1.01},{"t":1.7,"c":"0","v":1.02},{"t":1.8,"c":"0","v":1.0},{"t":1.9,"c":"0","v":1.01},{"t":2,"c":"0","v":1.02},{"t":2.1,"c":"0","v":1.01},{"t":2.2,"c":"0","v":1.0},{"t":2.3,"c":"0","v":1.02},{"t":2.4,"c":"0","v":1.01},{"t":2.5,"c":"0","v":1.01},{"t":2.6,"c":"0","v":0.98}
],
"c3":[
{"t":0,"c":"1","v":1.33},{"t":0.1,"c":"1","v":1.36},{"t":0.2,"c":"1","v":1.38},{"t":0.3,"c":"1","v":1.35},{"t":0.4,"c":"1","v":1.45},{"t":0.5,"c":"1","v":1.4},{"t":0.6,"c":"1","v":1.47},{"t":0.7,"c":"1","v":1.38},{"t":0.8,"c":"1","v":1.5},{"t":0.9,"c":"1","v":1.4},{"t":1,"c":"1","v":1.35},{"t":1.1,"c":"1","v":1.48},{"t":1.2,"c":"1","v":1.45},{"t":1.3,"c":"1","v":1.3},{"t":1.4,"c":"1","v":1.5},{"t":1.5,"c":"1","v":1.38},{"t":1.6,"c":"1","v":1.42},{"t":1.7,"c":"1","v":1.55},{"t":1.8,"c":"1","v":1.45},{"t":1.9,"c":"1","v":1.5},{"t":2,"c":"1","v":1.45},{"t":2.1,"c":"1","v":1.35},{"t":2.2,"c":"1","v":1.52},{"t":2.3,"c":"1","v":1.42},{"t":2.4,"c":"1","v":1.47},{"t":2.5,"c":"1","v":1.5},{"t":2.6,"c":"1","v":1.48},
{"t":0,"c":"0.1","v":1.0},{"t":0.1,"c":"0.1","v":0.92},{"t":0.2,"c":"0.1","v":1.05},{"t":0.3,"c":"0.1","v":1.1},{"t":0.4,"c":"0.1","v":1.15},{"t":0.5,"c":"0.1","v":1.12},{"t":0.6,"c":"0.1","v":1.2},{"t":0.7,"c":"0.1","v":1.05},{"t":0.8,"c":"0.1","v":1.18},{"t":0.9,"c":"0.1","v":1.1},{"t":1,"c":"0.1","v":1.22},{"t":1.1,"c":"0.1","v":1.15},{"t":1.2,"c":"0.1","v":1.3},{"t":1.3,"c":"0.1","v":1.2},{"t":1.4,"c":"0.1","v":1.25},{"t":1.5,"c":"0.1","v":1.2},{"t":1.6,"c":"0.1","v":1.28},{"t":1.7,"c":"0.1","v":1.18},{"t":1.8,"c":"0.1","v":1.22},{"t":1.9,"c":"0.1","v":1.25},{"t":2,"c":"0.1","v":1.15},{"t":2.1,"c":"0.1","v":1.2},{"t":2.2,"c":"0.1","v":1.12},{"t":2.3,"c":"0.1","v":1.18},{"t":2.4,"c":"0.1","v":1.08},{"t":2.5,"c":"0.1","v":1.1},{"t":2.6,"c":"0.1","v":1.0},
{"t":0,"c":"0","v":1.0},{"t":0.1,"c":"0","v":0.98},{"t":0.2,"c":"0","v":0.95},{"t":0.3,"c":"0","v":1.02},{"t":0.4,"c":"0","v":1.0},{"t":0.5,"c":"0","v":0.97},{"t":0.6,"c":"0","v":1.05},{"t":0.7,"c":"0","v":1.02},{"t":0.8,"c":"0","v":1.0},{"t":0.9,"c":"0","v":1.08},{"t":1,"c":"0","v":1.0},{"t":1.1,"c":"0","v":0.98},{"t":1.2,"c":"0","v":1.02},{"t":1.3,"c":"0","v":1.05},{"t":1.4,"c":"0","v":1.0},{"t":1.5,"c":"0","v":1.03},{"t":1.6,"c":"0","v":1.0},{"t":1.7,"c":"0","v":1.02},{"t":1.8,"c":"0","v":0.98},{"t":1.9,"c":"0","v":1.0},{"t":2,"c":"0","v":1.02},{"t":2.1,"c":"0","v":0.97},{"t":2.2,"c":"0","v":1.0},{"t":2.3,"c":"0","v":1.02},{"t":2.4,"c":"0","v":1.0},{"t":2.5,"c":"0","v":0.98},{"t":2.6,"c":"0","v":1.0}
],
"c4":[
{"t":0,"c":"1","v":1.25},{"t":0.1,"c":"1","v":1.35},{"t":0.2,"c":"1","v":1.3},{"t":0.3,"c":"1","v":1.4},{"t":0.4,"c":"1","v":1.38},{"t":0.5,"c":"1","v":1.42},{"t":0.6,"c":"1","v":1.35},{"t":0.7,"c":"1","v":1.45},{"t":0.8,"c":"1","v":1.4},{"t":0.9,"c":"1","v":1.35},{"t":1,"c":"1","v":1.45},{"t":1.1,"c":"1","v":1.4},{"t":1.2,"c":"1","v":1.42},{"t":1.3,"c":"1","v":1.35},{"t":1.4,"c":"1","v":1.45},{"t":1.5,"c":"1","v":1.4},{"t":1.6,"c":"1","v":1.3},{"t":1.7,"c":"1","v":1.42},{"t":1.8,"c":"1","v":1.48},{"t":1.9,"c":"1","v":1.45},{"t":2,"c":"1","v":1.35},{"t":2.1,"c":"1","v":1.5},{"t":2.2,"c":"1","v":1.42},{"t":2.3,"c":"1","v":1.45},{"t":2.4,"c":"1","v":1.4},{"t":2.5,"c":"1","v":1.55},{"t":2.6,"c":"1","v":1.5},
{"t":0,"c":"0.1","v":1.05},{"t":0.1,"c":"0.1","v":1.1},{"t":0.2,"c":"0.1","v":1.2},{"t":0.3,"c":"0.1","v":1.25},{"t":0.4,"c":"0.1","v":1.3},{"t":0.5,"c":"0.1","v":1.2},{"t":0.6,"c":"0.1","v":1.3},{"t":0.7,"c":"0.1","v":1.25},{"t":0.8,"c":"0.1","v":1.35},{"t":0.9,"c":"0.1","v":1.2},{"t":1,"c":"0.1","v":1.3},{"t":1.1,"c":"0.1","v":1.28},{"t":1.2,"c":"0.1","v":1.35},{"t":1.3,"c":"0.1","v":1.22},{"t":1.4,"c":"0.1","v":1.3},{"t":1.5,"c":"0.1","v":1.25},{"t":1.6,"c":"0.1","v":1.32},{"t":1.7,"c":"0.1","v":1.2},{"t":1.8,"c":"0.1","v":1.3},{"t":1.9,"c":"0.1","v":1.25},{"t":2,"c":"0.1","v":1.35},{"t":2.1,"c":"0.1","v":1.3},{"t":2.2,"c":"0.1","v":1.28},{"t":2.3,"c":"0.1","v":1.32},{"t":2.4,"c":"0.1","v":1.25},{"t":2.5,"c":"0.1","v":1.38},{"t":2.6,"c":"0.1","v":1.3},
{"t":0,"c":"0","v":1.0},{"t":0.1,"c":"0","v":0.95},{"t":0.2,"c":"0","v":1.0},{"t":0.3,"c":"0","v":1.02},{"t":0.4,"c":"0","v":0.98},{"t":0.5,"c":"0","v":1.0},{"t":0.6,"c":"0","v":1.03},{"t":0.7,"c":"0","v":1.0},{"t":0.8,"c":"0","v":0.98},{"t":0.9,"c":"0","v":1.02},{"t":1,"c":"0","v":1.0},{"t":1.1,"c":"0","v":1.05},{"t":1.2,"c":"0","v":0.98},{"t":1.3,"c":"0","v":1.0},{"t":1.4,"c":"0","v":1.02},{"t":1.5,"c":"0","v":1.0},{"t":1.6,"c":"0","v":0.98},{"t":1.7,"c":"0","v":1.03},{"t":1.8,"c":"0","v":1.0},{"t":1.9,"c":"0","v":0.99},{"t":2,"c":"0","v":1.0},{"t":2.1,"c":"0","v":1.02},{"t":2.2,"c":"0","v":0.98},{"t":2.3,"c":"0","v":1.0},{"t":2.4,"c":"0","v":1.02},{"t":2.5,"c":"0","v":1.0},{"t":2.6,"c":"0","v":1.02}
]
},
"vconcat":[
{"hconcat":[
 {"width":152,"height":100,"title":{"text":"BRD2","offset":5},"data":{"name":"a2"},
  "encoding":{"x":{"field":"t","type":"quantitative","scale":{"domain":[0,25],"nice":false},"axis":{"values":[0,10,20],"title":"Time (h)"}},
   "y":{"field":"v","type":"quantitative","scale":{"domain":[0,1.5],"nice":false},"axis":{"values":[0,0.5,1,1.5],"format":".1f","title":"Fractional R LU"}}},
  "layer":[
   {"mark":{"type":"line","strokeWidth":3,"interpolate":"monotone"},"encoding":{"stroke":{"field":"c","type":"nominal","scale":{"domain":["0","0.001372","0.004115","0.012346","0.037037","0.111111","0.333333","1"],"range":["#000000","#ecd2f6","#d99aee","#cc6be8","#b83fe0","#a327c9","#7b2196","#4b1a5c"]},"legend":null}}},
   {"mark":{"type":"point","filled":true,"size":10,"opacity":1},"encoding":{"color":{"field":"c","type":"nominal","scale":{"domain":["1","0.333333","0.111111","0.037037","0.012346","0.004115","0.001372","0"],"range":["#4b1a5c","#7b2196","#a327c9","#b83fe0","#cc6be8","#d99aee","#ecd2f6","#000000"]},"legend":{"title":"µM SIM4","orient":"none","legendX":161,"legendY":-12,"symbolSize":16,"symbolOffset":3,"labelOffset":8,"rowPadding":4,"titlePadding":4}},
     "shape":{"field":"c","type":"nominal","scale":{"domain":["1","0.333333","0.111111","0.037037","0.012346","0.004115","0.001372","0"],"range":["circle","square","triangle-up","triangle-down","diamond","circle","square","triangle-up"]},"legend":{"title":"µM SIM4","orient":"none","legendX":161,"legendY":-12,"symbolSize":16,"symbolOffset":3,"labelOffset":8,"rowPadding":4,"titlePadding":4}}}}
  ]},
 {"width":152,"height":100,"title":{"text":"BRD3","offset":5},"data":{"name":"a3"},
  "encoding":{"x":{"field":"t","type":"quantitative","scale":{"domain":[0,25],"nice":false},"axis":{"values":[0,10,20],"title":"Time (h)"}},
   "y":{"field":"v","type":"quantitative","scale":{"domain":[0,1.5],"nice":false},"axis":{"values":[0,0.5,1,1.5],"format":".1f","title":"Fractional R LU"}}},
  "layer":[
   {"mark":{"type":"line","strokeWidth":3,"interpolate":"monotone"},"encoding":{"stroke":{"field":"c","type":"nominal","scale":{"domain":["0","0.001372","0.004115","0.012346","0.037037","0.111111","0.333333","1"],"range":["#000000","#fde3c8","#ffc78a","#ffae55","#ff9930","#ff7f0e","#f2600a","#c4620c"]},"legend":null}}},
   {"mark":{"type":"point","filled":true,"size":10,"opacity":1},"encoding":{"color":{"field":"c","type":"nominal","scale":{"domain":["1","0.333333","0.111111","0.037037","0.012346","0.004115","0.001372","0"],"range":["#c4620c","#f2600a","#ff7f0e","#ff9930","#ffae55","#ffc78a","#fde3c8","#000000"]},"legend":{"title":"µM SIM4","orient":"none","legendX":161,"legendY":-12,"symbolSize":16,"symbolOffset":3,"labelOffset":8,"rowPadding":4,"titlePadding":4}},
     "shape":{"field":"c","type":"nominal","scale":{"domain":["1","0.333333","0.111111","0.037037","0.012346","0.004115","0.001372","0"],"range":["circle","square","triangle-up","triangle-down","diamond","circle","square","triangle-up"]},"legend":{"title":"µM SIM4","orient":"none","legendX":161,"legendY":-12,"symbolSize":16,"symbolOffset":3,"labelOffset":8,"rowPadding":4,"titlePadding":4}}}}
  ]},
 {"width":152,"height":100,"title":{"text":"BRD4","offset":5},"data":{"name":"a4"},
  "encoding":{"x":{"field":"t","type":"quantitative","scale":{"domain":[0,25],"nice":false},"axis":{"values":[0,10,20],"title":"Time (h)"}},
   "y":{"field":"v","type":"quantitative","scale":{"domain":[0,1.5],"nice":false},"axis":{"values":[0,0.5,1,1.5],"format":".1f","title":"Fractional R LU"}}},
  "layer":[
   {"mark":{"type":"line","strokeWidth":3,"interpolate":"monotone"},"encoding":{"stroke":{"field":"c","type":"nominal","scale":{"domain":["0","0.001372","0.004115","0.012346","0.037037","0.111111","0.333333","1"],"range":["#000000","#bfecf7","#78d9ef","#2fcbe8","#22b5d6","#1b9ec0","#137a98","#0f4f66"]},"legend":null}}},
   {"mark":{"type":"point","filled":true,"size":10,"opacity":1},"encoding":{"color":{"field":"c","type":"nominal","scale":{"domain":["1","0.333333","0.111111","0.037037","0.012346","0.004115","0.001372","0"],"range":["#0f4f66","#137a98","#1b9ec0","#22b5d6","#2fcbe8","#78d9ef","#bfecf7","#000000"]},"legend":{"title":"µM SIM4","orient":"none","legendX":161,"legendY":-12,"symbolSize":16,"symbolOffset":3,"labelOffset":8,"rowPadding":4,"titlePadding":4}},
     "shape":{"field":"c","type":"nominal","scale":{"domain":["1","0.333333","0.111111","0.037037","0.012346","0.004115","0.001372","0"],"range":["circle","square","triangle-up","triangle-down","diamond","circle","square","triangle-up"]},"legend":{"title":"µM SIM4","orient":"none","legendX":161,"legendY":-12,"symbolSize":16,"symbolOffset":3,"labelOffset":8,"rowPadding":4,"titlePadding":4}}}}
  ]}
 ],
 "spacing":119,"bounds":"flush",
 "title":{"text":"a","anchor":"start","frame":"group","fontSize":11,"fontWeight":"bold","dx":-34,"dy":4.5,"offset":0},
 "resolve":{"scale":{"x":"independent","y":"independent","color":"independent","shape":"independent","stroke":"independent"},"legend":{"color":"independent","shape":"independent","stroke":"independent"}}
},
{"hconcat":[
 {"width":152,"height":100,"title":{"text":"BRD2:CRBN","offset":7},
  "layer":[
   {"data":{"name":"b2"},"mark":{"type":"rule","strokeWidth":1,"opacity":0.45},"encoding":{"x":{"field":"t","type":"quantitative","scale":{"domain":[0,3],"nice":false},"axis":{"values":[0,1,2,3],"title":"Time (h)"}},"y":{"field":"v","type":"quantitative","scale":{"domain":[0,9],"nice":false},"axis":{"values":[0,2,4,6,8],"title":"Fold increase in NanoBRET"}},"y2":{"field":"h"},"stroke":{"field":"c","type":"nominal","scale":{"domain":["0","0.1","1"],"range":["#000000","#bb3ee0","#4b1a5c"]},"legend":null}}},
   {"data":{"name":"b2"},"mark":{"type":"tick","orient":"horizontal","size":4,"thickness":1,"opacity":0.45},"encoding":{"x":{"field":"t","type":"quantitative","scale":{"domain":[0,3],"nice":false},"axis":{"values":[0,1,2,3],"title":"Time (h)"}},"y":{"field":"h","type":"quantitative","scale":{"domain":[0,9],"nice":false},"axis":{"values":[0,2,4,6,8],"title":"Fold increase in NanoBRET"}},"stroke":{"field":"c","type":"nominal","scale":{"domain":["0","0.1","1"],"range":["#000000","#bb3ee0","#4b1a5c"]},"legend":null}}},
   {"data":{"name":"f2"},"mark":{"type":"line","strokeWidth":1.5,"interpolate":"monotone"},"encoding":{"x":{"field":"t","type":"quantitative","scale":{"domain":[0,3],"nice":false},"axis":{"values":[0,1,2,3],"title":"Time (h)"}},"y":{"field":"v","type":"quantitative","scale":{"domain":[0,9],"nice":false},"axis":{"values":[0,2,4,6,8],"title":"Fold increase in NanoBRET"}},"color":{"field":"c","type":"nominal","scale":{"domain":["1","0.1","0"],"range":["#4b1a5c","#bb3ee0","#000000"]},"legend":{"title":"µM SIM4","orient":"none","legendX":159,"legendY":-8,"symbolType":"M-1.5,0L1.5,0M0.5,0A0.5,0.5,0,1,1,-0.5,0A0.5,0.5,0,1,1,0.5,0Z","symbolSize":50,"symbolOffset":1.8,"labelOffset":8,"rowPadding":5,"titlePadding":4,"symbolStrokeWidth":1.5}}}},
   {"data":{"name":"b2"},"mark":{"type":"point","filled":true,"size":12,"opacity":1},"encoding":{"x":{"field":"t","type":"quantitative","scale":{"domain":[0,3],"nice":false},"axis":{"values":[0,1,2,3],"title":"Time (h)"}},"y":{"field":"v","type":"quantitative","scale":{"domain":[0,9],"nice":false},"axis":{"values":[0,2,4,6,8],"title":"Fold increase in NanoBRET"}},"fill":{"field":"c","type":"nominal","scale":{"domain":["0","0.1","1"],"range":["#000000","#bb3ee0","#4b1a5c"]},"legend":null},"shape":{"field":"c","type":"nominal","scale":{"domain":["0","0.1","1"],"range":["circle","triangle-up","circle"]},"legend":null}}}
  ]},
 {"width":152,"height":100,"title":{"text":"BRD3:CRBN","offset":7},
  "layer":[
   {"data":{"name":"b3"},"mark":{"type":"rule","strokeWidth":1,"opacity":0.45},"encoding":{"x":{"field":"t","type":"quantitative","scale":{"domain":[0,3],"nice":false},"axis":{"values":[0,1,2,3],"title":"Time (h)"}},"y":{"field":"v","type":"quantitative","scale":{"domain":[0,9],"nice":false},"axis":{"values":[0,2,4,6,8],"title":"Fold increase in NanoBRET"}},"y2":{"field":"h"},"stroke":{"field":"c","type":"nominal","scale":{"domain":["0","0.1","1"],"range":["#000000","#ff9a1f","#c4620c"]},"legend":null}}},
   {"data":{"name":"b3"},"mark":{"type":"tick","orient":"horizontal","size":4,"thickness":1,"opacity":0.45},"encoding":{"x":{"field":"t","type":"quantitative","scale":{"domain":[0,3],"nice":false},"axis":{"values":[0,1,2,3],"title":"Time (h)"}},"y":{"field":"h","type":"quantitative","scale":{"domain":[0,9],"nice":false},"axis":{"values":[0,2,4,6,8],"title":"Fold increase in NanoBRET"}},"stroke":{"field":"c","type":"nominal","scale":{"domain":["0","0.1","1"],"range":["#000000","#ff9a1f","#c4620c"]},"legend":null}}},
   {"data":{"name":"f3"},"mark":{"type":"line","strokeWidth":1.5,"interpolate":"monotone"},"encoding":{"x":{"field":"t","type":"quantitative","scale":{"domain":[0,3],"nice":false},"axis":{"values":[0,1,2,3],"title":"Time (h)"}},"y":{"field":"v","type":"quantitative","scale":{"domain":[0,9],"nice":false},"axis":{"values":[0,2,4,6,8],"title":"Fold increase in NanoBRET"}},"color":{"field":"c","type":"nominal","scale":{"domain":["1","0.1","0"],"range":["#c4620c","#ff9a1f","#000000"]},"legend":{"title":"µM SIM4","orient":"none","legendX":159,"legendY":-8,"symbolType":"M-1.5,0L1.5,0M0.5,0A0.5,0.5,0,1,1,-0.5,0A0.5,0.5,0,1,1,0.5,0Z","symbolSize":50,"symbolOffset":1.8,"labelOffset":8,"rowPadding":5,"titlePadding":4,"symbolStrokeWidth":1.5}}}},
   {"data":{"name":"b3"},"mark":{"type":"point","filled":true,"size":12,"opacity":1},"encoding":{"x":{"field":"t","type":"quantitative","scale":{"domain":[0,3],"nice":false},"axis":{"values":[0,1,2,3],"title":"Time (h)"}},"y":{"field":"v","type":"quantitative","scale":{"domain":[0,9],"nice":false},"axis":{"values":[0,2,4,6,8],"title":"Fold increase in NanoBRET"}},"fill":{"field":"c","type":"nominal","scale":{"domain":["0","0.1","1"],"range":["#000000","#ff9a1f","#c4620c"]},"legend":null},"shape":{"field":"c","type":"nominal","scale":{"domain":["0","0.1","1"],"range":["circle","triangle-up","circle"]},"legend":null}}}
  ]},
 {"width":152,"height":100,"title":{"text":"BRD4:CRBN","offset":7},
  "layer":[
   {"data":{"name":"b4"},"mark":{"type":"rule","strokeWidth":1,"opacity":0.45},"encoding":{"x":{"field":"t","type":"quantitative","scale":{"domain":[0,3],"nice":false},"axis":{"values":[0,1,2,3],"title":"Time (h)"}},"y":{"field":"v","type":"quantitative","scale":{"domain":[0,9],"nice":false},"axis":{"values":[0,2,4,6,8],"title":"Fold increase in NanoBRET"}},"y2":{"field":"h"},"stroke":{"field":"c","type":"nominal","scale":{"domain":["0","0.1","1"],"range":["#000000","#2bbad8","#1a6d85"]},"legend":null}}},
   {"data":{"name":"b4"},"mark":{"type":"tick","orient":"horizontal","size":4,"thickness":1,"opacity":0.45},"encoding":{"x":{"field":"t","type":"quantitative","scale":{"domain":[0,3],"nice":false},"axis":{"values":[0,1,2,3],"title":"Time (h)"}},"y":{"field":"h","type":"quantitative","scale":{"domain":[0,9],"nice":false},"axis":{"values":[0,2,4,6,8],"title":"Fold increase in NanoBRET"}},"stroke":{"field":"c","type":"nominal","scale":{"domain":["0","0.1","1"],"range":["#000000","#2bbad8","#1a6d85"]},"legend":null}}},
   {"data":{"name":"f4"},"mark":{"type":"line","strokeWidth":1.5,"interpolate":"monotone"},"encoding":{"x":{"field":"t","type":"quantitative","scale":{"domain":[0,3],"nice":false},"axis":{"values":[0,1,2,3],"title":"Time (h)"}},"y":{"field":"v","type":"quantitative","scale":{"domain":[0,9],"nice":false},"axis":{"values":[0,2,4,6,8],"title":"Fold increase in NanoBRET"}},"color":{"field":"c","type":"nominal","scale":{"domain":["1","0.1","0"],"range":["#1a6d85","#2bbad8","#000000"]},"legend":{"title":"µM SIM4","orient":"none","legendX":159,"legendY":-8,"symbolType":"M-1.5,0L1.5,0M0.5,0A0.5,0.5,0,1,1,-0.5,0A0.5,0.5,0,1,1,0.5,0Z","symbolSize":50,"symbolOffset":1.8,"labelOffset":8,"rowPadding":5,"titlePadding":4,"symbolStrokeWidth":1.5}}}},
   {"data":{"name":"b4"},"mark":{"type":"point","filled":true,"size":12,"opacity":1},"encoding":{"x":{"field":"t","type":"quantitative","scale":{"domain":[0,3],"nice":false},"axis":{"values":[0,1,2,3],"title":"Time (h)"}},"y":{"field":"v","type":"quantitative","scale":{"domain":[0,9],"nice":false},"axis":{"values":[0,2,4,6,8],"title":"Fold increase in NanoBRET"}},"fill":{"field":"c","type":"nominal","scale":{"domain":["0","0.1","1"],"range":["#000000","#2bbad8","#1a6d85"]},"legend":null},"shape":{"field":"c","type":"nominal","scale":{"domain":["0","0.1","1"],"range":["circle","triangle-up","circle"]},"legend":null}}}
  ]}
 ],
 "spacing":119,"bounds":"flush",
 "title":{"text":"b","anchor":"start","frame":"group","fontSize":11,"fontWeight":"bold","dx":-34,"dy":4.5,"offset":0},
 "resolve":{"scale":{"x":"independent","y":"independent","color":"independent","shape":"independent","stroke":"independent","fill":"independent"},"legend":{"color":"independent","shape":"independent","stroke":"independent","fill":"independent"}}
},
{"hconcat":[
 {"width":152,"height":100,"title":{"text":"BRD2:Ub","offset":4},"data":{"name":"c2"},"mark":{"type":"point","filled":true,"size":12,"opacity":1},
  "encoding":{"x":{"field":"t","type":"quantitative","scale":{"domain":[0,3],"nice":false},"axis":{"values":[0,1,2,3],"title":"Time (h)"}},"y":{"field":"v","type":"quantitative","scale":{"domain":[0,3],"nice":false},"axis":{"values":[0,1,2,3],"title":"Fold increase in NanoBRET"}},
   "color":{"field":"c","type":"nominal","scale":{"domain":["1","0.1","0"],"range":["#4b1a5c","#bb3ee0","#000000"]},"legend":{"title":"µM SIM4","orient":"none","legendX":159,"legendY":-11.7,"symbolSize":16,"symbolOffset":4.3,"labelOffset":9.5,"rowPadding":5,"titlePadding":6}},
   "shape":{"field":"c","type":"nominal","scale":{"domain":["1","0.1","0"],"range":["circle","triangle-up","circle"]},"legend":{"title":"µM SIM4","orient":"none","legendX":159,"legendY":-11.7,"symbolSize":16,"symbolOffset":4.3,"labelOffset":9.5,"rowPadding":5,"titlePadding":6}}}},
 {"width":152,"height":100,"title":{"text":"BRD3:Ub","offset":4},"data":{"name":"c3"},"mark":{"type":"point","filled":true,"size":12,"opacity":1},
  "encoding":{"x":{"field":"t","type":"quantitative","scale":{"domain":[0,3],"nice":false},"axis":{"values":[0,1,2,3],"title":"Time (h)"}},"y":{"field":"v","type":"quantitative","scale":{"domain":[0,3],"nice":false},"axis":{"values":[0,1,2,3],"title":"Fold increase in NanoBRET"}},
   "color":{"field":"c","type":"nominal","scale":{"domain":["1","0.1","0"],"range":["#c4620c","#ff9a1f","#000000"]},"legend":{"title":"µM SIM4","orient":"none","legendX":159,"legendY":-11.7,"symbolSize":16,"symbolOffset":4.3,"labelOffset":9.5,"rowPadding":5,"titlePadding":6}},
   "shape":{"field":"c","type":"nominal","scale":{"domain":["1","0.1","0"],"range":["circle","triangle-up","circle"]},"legend":{"title":"µM SIM4","orient":"none","legendX":159,"legendY":-11.7,"symbolSize":16,"symbolOffset":4.3,"labelOffset":9.5,"rowPadding":5,"titlePadding":6}}}},
 {"width":152,"height":100,"title":{"text":"BRD4:Ub","offset":4},"data":{"name":"c4"},"mark":{"type":"point","filled":true,"size":12,"opacity":1},
  "encoding":{"x":{"field":"t","type":"quantitative","scale":{"domain":[0,3],"nice":false},"axis":{"values":[0,1,2,3],"title":"Time (h)"}},"y":{"field":"v","type":"quantitative","scale":{"domain":[0,3],"nice":false},"axis":{"values":[0,1,2,3],"title":"Fold increase in NanoBRET"}},
   "color":{"field":"c","type":"nominal","scale":{"domain":["1","0.1","0"],"range":["#1a6d85","#2bbad8","#000000"]},"legend":{"title":"µM SIM4","orient":"none","legendX":159,"legendY":-11.7,"symbolSize":16,"symbolOffset":4.3,"labelOffset":9.5,"rowPadding":5,"titlePadding":6}},
   "shape":{"field":"c","type":"nominal","scale":{"domain":["1","0.1","0"],"range":["circle","triangle-up","circle"]},"legend":{"title":"µM SIM4","orient":"none","legendX":159,"legendY":-11.7,"symbolSize":16,"symbolOffset":4.3,"labelOffset":9.5,"rowPadding":5,"titlePadding":6}}}}
 ],
 "spacing":119,"bounds":"flush",
 "title":{"text":"c","anchor":"start","frame":"group","fontSize":11,"fontWeight":"bold","dx":-34,"dy":4.5,"offset":0},
 "resolve":{"scale":{"x":"independent","y":"independent","color":"independent","shape":"independent"},"legend":{"color":"independent","shape":"independent"}}
}
]
}
